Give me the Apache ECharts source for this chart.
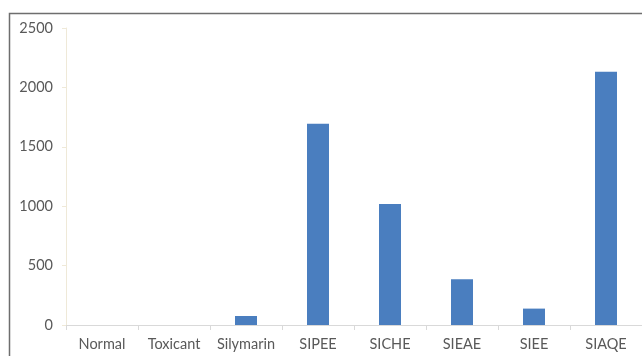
<!DOCTYPE html>
<html>
<head>
<meta charset="utf-8">
<script src="https://cdn.jsdelivr.net/npm/echarts@6/dist/echarts.min.js"></script>
<style>
  html, body { margin: 0; padding: 0; background: #fff; }
  #chart { width: 642px; height: 356px; }
</style>
</head>
<body>
<div id="chart"></div>
<script>
// values
const groups = ['Normal', 'Toxicant', 'Silymarin', 'SIPEE', 'SICHE', 'SIEAE', 'SIEE', 'SIAQE']
const values = [0, 0, 76, 1695, 1018, 385, 138, 2132]
const yTicks = [0, 500, 1000, 1500, 2000, 2500]

const chart = echarts.init(document.getElementById('chart'))

const option = {
  backgroundColor: '#fff',
  animation: false,
  textStyle: { fontFamily: 'Lato' },
  // the picture frame (left and top edge only)
  graphic: [{
    type: 'polyline',
    shape: { points: [[9.5, 356], [9.5, 13.5], [642, 13.5]] },
    style: { stroke: '#6e6e6e', lineWidth: 1.5, fill: null },
    silent: true
  }],
  grid: { left: 66, right: 0, top: 28, bottom: 31 },
  xAxis: {
    type: 'category',
    data: groups,
    axisLine: { lineStyle: { color: '#d9d9d9', width: 1 } },
    axisTick: { show: true, interval: 0, length: 5, lineStyle: { color: '#d9d9d9' } },
    axisLabel: { interval: 0, color: '#595959', fontSize: 14.5, margin: 12 }
  },
  yAxis: {
    type: 'value',
    min: yTicks[0],
    max: yTicks[yTicks.length - 1],
    interval: yTicks[1] - yTicks[0],
    axisLine: { show: true, lineStyle: { color: '#efe9d8', width: 1 } },
    axisTick: { show: true, length: 4, lineStyle: { color: '#efe9d8' } },
    splitLine: { show: false },
    axisLabel: { color: '#595959', fontSize: 14.5, margin: 13, formatter: v => String(v) }
  },
  series: [{
    type: 'bar',
    data: values,
    barWidth: 22,
    itemStyle: { color: '#4a7ebf' }
  }]
}

chart.setOption(option)
</script>
</body>
</html>
